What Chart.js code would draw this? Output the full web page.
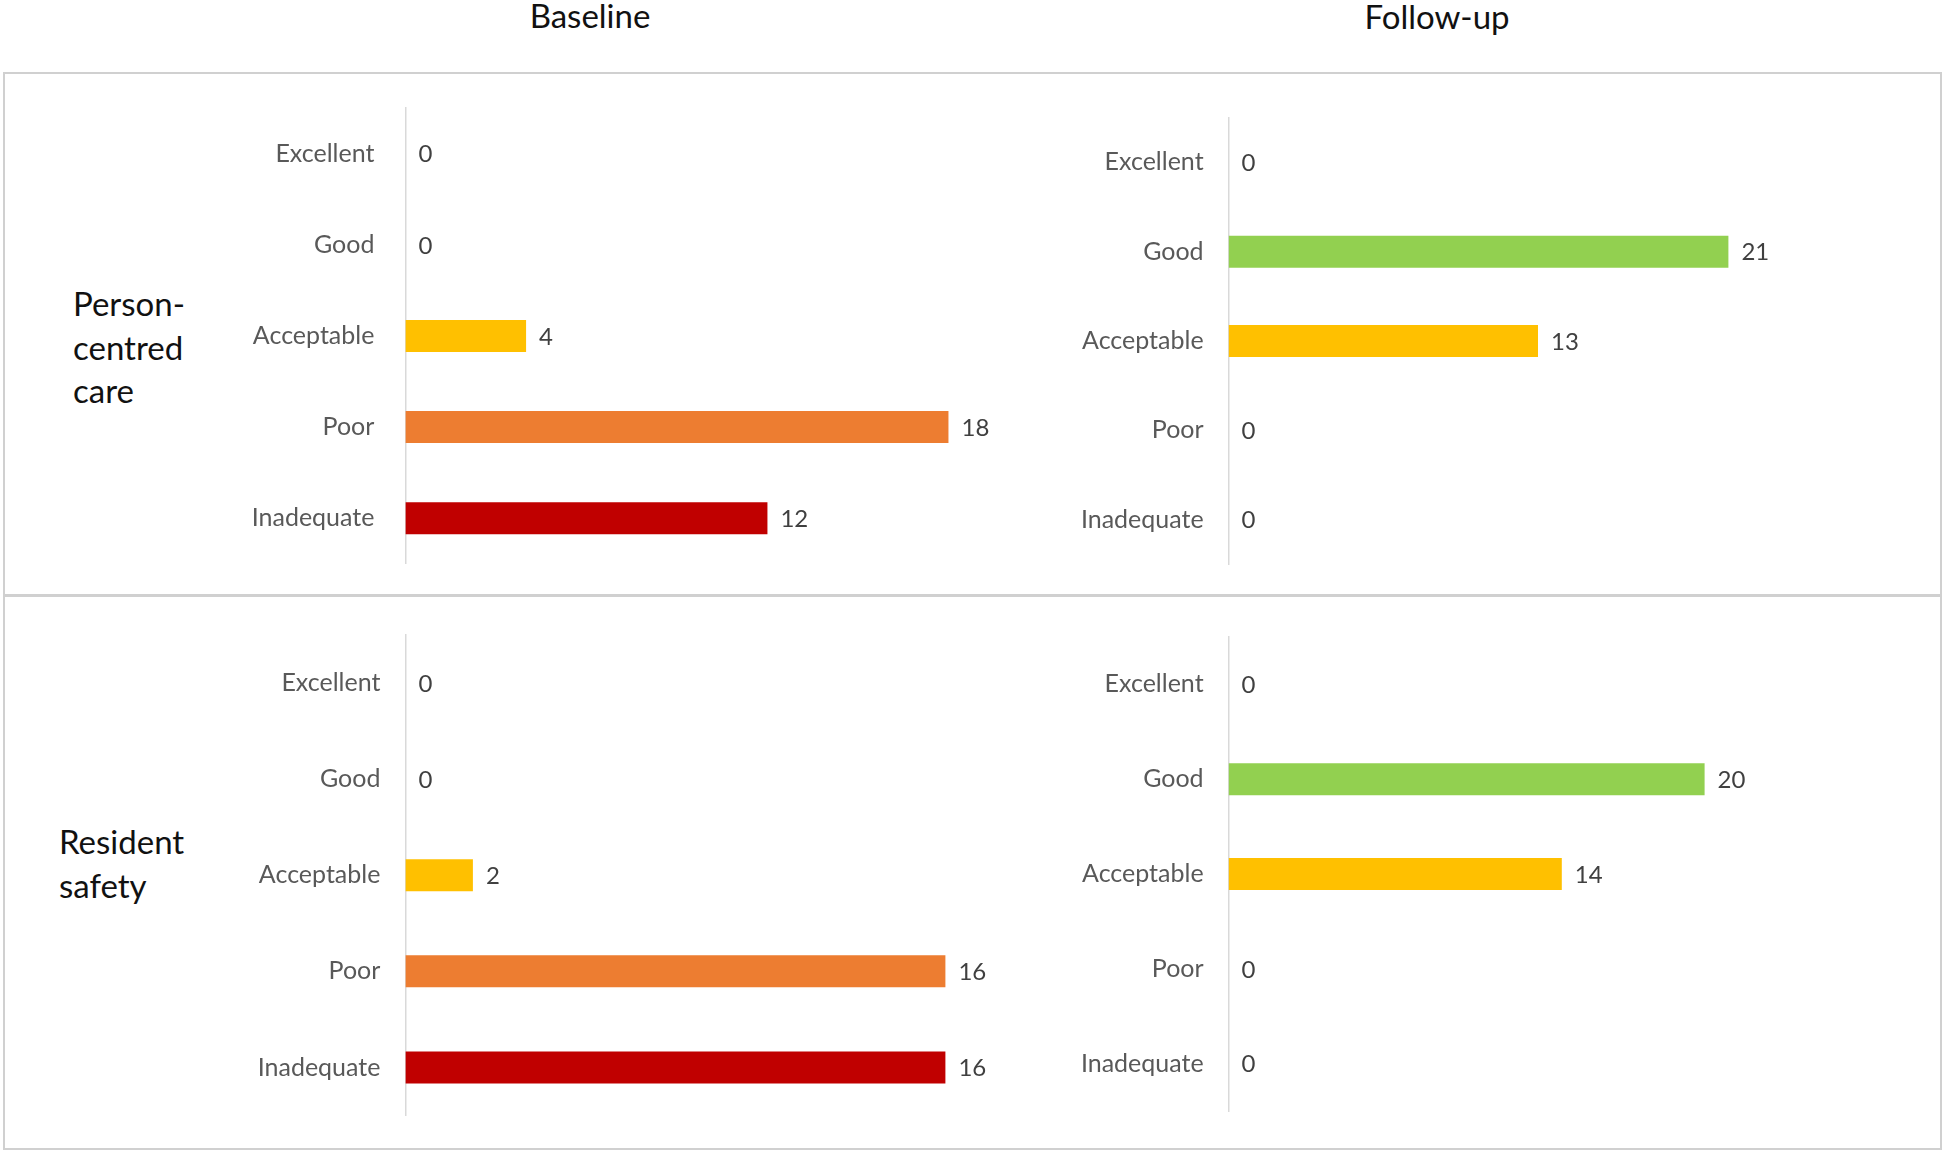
<!DOCTYPE html>
<html>
<head>
<meta charset="utf-8">
<script src="https://cdn.jsdelivr.net/npm/chart.js@4/dist/chart.umd.min.js"></script>
<style>
  html, body { margin: 0; padding: 0; background: #ffffff; }
  #wrap { position: relative; width: 1944px; height: 1155px; background: #ffffff; overflow: hidden; font-family: Lato, "Open Sans", sans-serif; }
  canvas { position: absolute; }
  .title { position: absolute; font-size: 33px; color: #111; white-space: nowrap; transform: translateX(-50%); line-height: 1; }
  .rowlab { position: absolute; font-size: 33px; color: #111; line-height: 43.5px; }
  .box { position: absolute; border: 2px solid #d0d0d0; box-sizing: border-box; }
</style>
</head>
<body>
<div id="wrap">
  <div class="title" style="left:590px; top:-1px;">Baseline</div>
  <div class="title" style="left:1437px; top:0px;">Follow-up</div>
  <div class="box" style="left:3px; top:72px; width:1939px; height:525px;"></div>
  <div class="box" style="left:3px; top:594px; width:1939px; height:556px;"></div>
  <div class="rowlab" style="left:73px; top:282px;">Person-<br>centred<br>care</div>
  <div class="rowlab" style="left:59px; top:820px;">Resident<br>safety</div>
  <canvas id="c1" width="1040" height="500" style="left:0px; top:80px;"></canvas>
  <canvas id="c2" width="904" height="500" style="left:1040px; top:80px;"></canvas>
  <canvas id="c3" width="1040" height="540" style="left:0px; top:600px;"></canvas>
  <canvas id="c4" width="904" height="540" style="left:1040px; top:600px;"></canvas>
</div>
<script>
// ---- data ----
const categories = ['Excellent', 'Good', 'Acceptable', 'Poor', 'Inadequate'];
const personCentredBaseline = [0, 0, 4, 18, 12];
const personCentredFollowup = [0, 21, 13, 0, 0];
const residentSafetyBaseline = [0, 0, 2, 16, 16];
const residentSafetyFollowup = [0, 20, 14, 0, 0];
const categoryColors = ['#00B050', '#92D050', '#FFC000', '#ED7D31', '#C00000'];

const FONT = 'Lato, "Open Sans", sans-serif';

const valueLabels = {
  id: 'valueLabels',
  afterDatasetsDraw(chart) {
    const ctx = chart.ctx;
    ctx.save();
    ctx.font = '24px ' + FONT;
    ctx.fillStyle = '#404040';
    ctx.textAlign = 'left';
    ctx.textBaseline = 'middle';
    chart.data.datasets.forEach((ds, di) => {
      const meta = chart.getDatasetMeta(di);
      meta.data.forEach((el, i) => {
        ctx.fillText(String(ds.data[i]), el.x + 13, el.y + 1);
      });
    });
    ctx.restore();
  }
};

function makeChart(id, values, max, yWidth, pad, tickPad) {
  return new Chart(document.getElementById(id), {
    type: 'bar',
    data: {
      labels: categories,
      datasets: [{
        data: values,
        backgroundColor: categoryColors,
        borderWidth: 0,
        inflateAmount: 0,
        barThickness: 32
      }]
    },
    options: {
      indexAxis: 'y',
      responsive: false,
      animation: false,
      layout: { padding: pad, autoPadding: false },
      plugins: { legend: { display: false }, tooltip: { enabled: false } },
      scales: {
        x: { display: false, min: 0, max: max },
        y: {
          grid: { display: false, drawTicks: false },
          border: { display: true, color: '#d9d9d9', width: 1.5 },
          ticks: { color: '#595959', font: { family: FONT, size: 25 }, padding: tickPad },
          afterFit: (s) => { s.width = yWidth; s.paddingTop = 0; s.paddingBottom = 0; }
        }
      }
    },
    plugins: [valueLabels]
  });
}

makeChart('c1', personCentredBaseline, 20, 405.4, { left: 0, top: 28.1, right: 31.2, bottom: 16.2 }, 31);
makeChart('c2', personCentredFollowup, 25, 188.6, { left: 0, top: 37.8, right: 120.4, bottom: 15.9 }, 25);
makeChart('c3', residentSafetyBaseline, 18, 405.4, { left: 0, top: 35, right: 27.1, bottom: 24.5 }, 25);
makeChart('c4', residentSafetyFollowup, 25, 188.6, { left: 0, top: 37, right: 120.4, bottom: 28.9 }, 25);
</script>
</body>
</html>
